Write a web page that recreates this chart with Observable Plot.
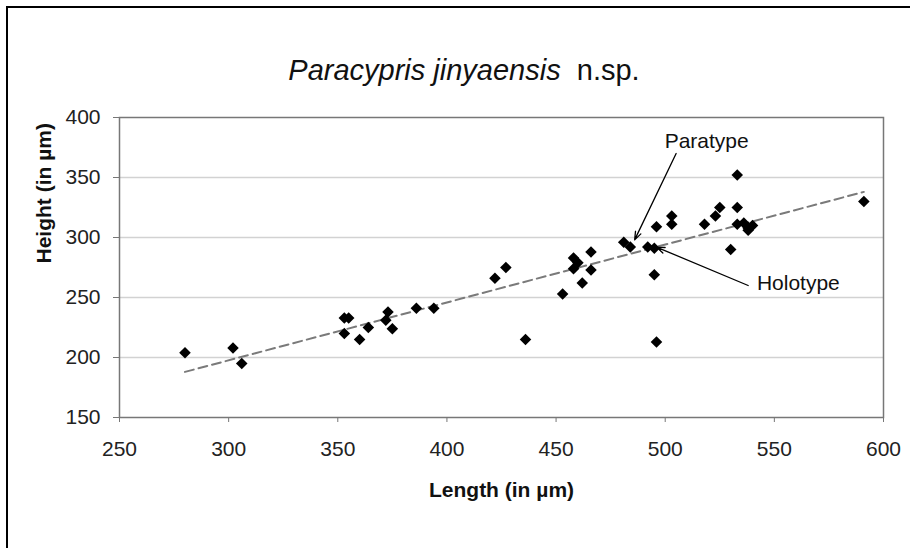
<!DOCTYPE html>
<html><head><meta charset="utf-8">
<script src="https://cdn.jsdelivr.net/npm/d3@7"></script>
<script src="https://cdn.jsdelivr.net/npm/@observablehq/plot@0.6"></script>
<style>
html,body{margin:0;padding:0;background:#fff;}
#wrap{position:relative;width:910px;height:548px;overflow:hidden;font-family:"Liberation Sans",Arial,sans-serif;}
#border{position:absolute;left:6px;top:6px;width:1000px;height:1000px;border-left:2px solid #000;border-top:2px solid #000;}
#title{position:absolute;left:0;width:928px;top:53px;text-align:center;font-size:29px;line-height:34px;white-space:pre;color:#111;}
#chart{position:absolute;left:0;top:0;}
</style></head>
<body><div id="wrap"><div id="border"></div><div id="title"><i>Paracypris jinyaensis</i>  n.sp.</div><div id="chart"></div></div>
<script>
const lengths = [280, 302, 306, 353, 355, 353, 360, 364, 373, 372, 375, 386, 394, 422, 427, 436, 453, 458, 460, 458, 466, 466, 462, 481, 484, 492, 495, 495, 496, 496, 503, 503, 518, 523, 525, 533, 533, 533, 530, 536, 538, 540, 538, 591];
const heights = [204, 208, 195, 233, 233, 220, 215, 225, 238, 231, 224, 241, 241, 266, 275, 215, 253, 283, 279, 274, 288, 273, 262, 296, 292, 292, 291, 269, 213, 309, 318, 311, 311, 318, 325, 352, 325, 311, 290, 312, 308, 310, 306, 330];
const trendX = [280, 591];
const trendY = [188, 338];
const xTicks = [250, 300, 350, 400, 450, 500, 550, 600];
const yTicks = [150, 200, 250, 300, 350, 400];
const gridValues = [200, 250, 300, 350];
const noteLabels = ["Paratype", "Holotype"];
const noteTextX = [519, 542];
const noteTextY = [380, 262];
const arrowX1 = [505, 538];
const arrowY1 = [370, 260];
const arrowX2 = [486, 496];
const arrowY2 = [298, 292];
const xTitle = "Length (in µm)";
const yTitle = "Height (in µm)";

const points = lengths.map((x, i) => ({x, y: heights[i]}));
const trend = trendX.map((x, i) => ({x, y: trendY[i]}));
const notes = noteLabels.map((label, i) => ({label, tx: noteTextX[i], ty: noteTextY[i], x1: arrowX1[i], y1: arrowY1[i], x2: arrowX2[i], y2: arrowY2[i]}));

const chart = Plot.plot({
  width: 910, height: 548,
  marginLeft: 119, marginRight: 27, marginTop: 117, marginBottom: 131,
  style: {fontFamily: "'Liberation Sans', Arial, sans-serif", fontSize: "21px", color: "#222", background: "transparent", overflow: "visible"},
  x: {domain: [250, 600]},
  y: {domain: [150, 400]},
  marks: [
    Plot.ruleY(gridValues, {stroke: "#d2d2d2", strokeWidth: 1.5}),
    Plot.frame({stroke: "#777", strokeWidth: 1.5}),
    Plot.axisX(xTicks, {tickSize: 5, tickPadding: 19, stroke: "#777", fill: "#222", label: null, fontSize: 21}),
    Plot.axisY(yTicks, {tickSize: 6, tickPadding: 13, stroke: "#777", fill: "#222", label: null, fontSize: 21}),
    Plot.text([xTitle], {frameAnchor: "bottom", dy: 73, lineAnchor: "middle", text: d => d, fontWeight: "bold", fontSize: 21, fill: "#111"}),
    Plot.text([yTitle], {frameAnchor: "left", dx: -75, dy: -4, rotate: -90, lineAnchor: "middle", text: d => d, fontWeight: "bold", fontSize: 21, fill: "#111"}),
    Plot.line(trend, {x: "x", y: "y", stroke: "#7a7a7a", strokeWidth: 2, strokeDasharray: "9,5"}),
    Plot.dot(points, {x: "x", y: "y", symbol: "diamond2", r: 5.2, fill: "#000", stroke: "none"}),
    Plot.arrow(notes, {x1: "x1", y1: "y1", x2: "x2", y2: "y2", stroke: "#000", strokeWidth: 1.3, headLength: 10, headAngle: 40}),
    Plot.text(notes.filter(d => d.label === "Paratype"), {x: "tx", y: "ty", text: "label", textAnchor: "middle", fontSize: 21, fill: "#111"}),
    Plot.text(notes.filter(d => d.label === "Holotype"), {x: "tx", y: "ty", text: "label", textAnchor: "start", fontSize: 21, fill: "#111"})
  ]
});
document.getElementById("chart").appendChild(chart);
</script>
</body></html>
